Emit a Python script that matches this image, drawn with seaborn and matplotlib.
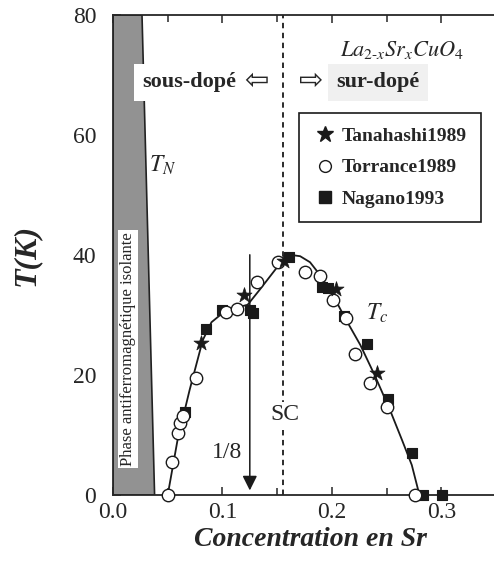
import matplotlib as mpl
mpl.use('Agg')
import matplotlib.pyplot as plt
import seaborn as sns
import pandas as pd
from matplotlib.lines import Line2D
from matplotlib.ticker import MultipleLocator

sns.set_theme(style='ticks')
plt.rcParams['font.family'] = ['Liberation Serif', 'DejaVu Sans']
plt.rcParams['mathtext.fontset'] = 'stix'

# data
tana_x = [0.080, 0.120, 0.156, 0.204, 0.241]
tana_T = [25.3, 33.3, 39.0, 34.3, 20.3]

torr_x = [0.050, 0.054, 0.059, 0.061, 0.064, 0.076, 0.103, 0.113, 0.132,
          0.151, 0.175, 0.189, 0.201, 0.213, 0.221, 0.235, 0.250, 0.276]
torr_T = [0, 5.5, 10.3, 12.0, 13.2, 19.5, 30.5, 31.0, 35.5,
          38.8, 37.2, 36.5, 32.5, 29.5, 23.5, 18.7, 14.7, 0]

nag_x = [0.066, 0.085, 0.100, 0.125, 0.128, 0.161, 0.191, 0.196, 0.211,
         0.232, 0.251, 0.273, 0.283, 0.301]
nag_T = [13.8, 27.7, 30.8, 30.8, 30.3, 39.7, 34.7, 34.5, 29.9,
         25.2, 16.0, 7.0, 0, 0]

# Tc curve
fit_x = [0.050, 0.059, 0.070, 0.082, 0.090, 0.100, 0.112, 0.123, 0.134,
         0.148, 0.157, 0.163, 0.171, 0.180, 0.189, 0.201, 0.212, 0.226,
         0.239, 0.253, 0.264, 0.273, 0.280]
fit_T = [0, 9.2, 17.5, 25.8, 28.8, 30.3, 31.2, 31.7, 34.2,
         37.5, 39.5, 40.0, 39.8, 38.8, 36.7, 33.3, 29.5, 25.0,
         20.0, 14.2, 9.2, 5.0, 0]

# antiferromagnetic wedge
afm_x = [0, 0.038, 0.0265, 0]
afm_T = [0, 0, 80, 80]

fig = plt.figure(figsize=(4.94, 5.66), dpi=100)
ax = fig.add_axes([113/494, 71/566, 394/494, 480/566])

ax.fill(afm_x, afm_T, facecolor='#929292', edgecolor='#222222', lw=1.2, zorder=1)

ax.axvline(0.155, color='k', ls=(0, (3, 2.5)), lw=1.3, zorder=1)

fit = pd.DataFrame({'x': fit_x, 'T': fit_T})
sns.lineplot(data=fit, x='x', y='T', color='k', lw=1.3, sort=False, ax=ax, zorder=2)

sns.scatterplot(x=nag_x, y=nag_T, marker='s', s=60, color='k', edgecolor='k',
                linewidth=0.8, ax=ax, zorder=3, clip_on=False)
sns.scatterplot(x=torr_x, y=torr_T, marker='o', s=80, facecolor='white', edgecolor='k',
                linewidth=1.0, ax=ax, zorder=4, clip_on=False)
sns.scatterplot(x=tana_x, y=tana_T, marker='*', s=130, color='k', edgecolor='k',
                linewidth=0.5, ax=ax, zorder=5, clip_on=False)

ax.annotate('', xy=(0.125, 0.3), xytext=(0.125, 40.5),
            arrowprops=dict(arrowstyle='-|>', color='k', lw=1.1, mutation_scale=22), zorder=6)

ax.set_xlim(0, 0.36)
ax.set_ylim(0, 80)
ax.xaxis.set_major_locator(MultipleLocator(0.1))
ax.xaxis.set_minor_locator(MultipleLocator(0.05))
ax.yaxis.set_major_locator(MultipleLocator(20))
ax.yaxis.set_minor_locator(MultipleLocator(10))
ax.set_xticks([0, 0.1, 0.2, 0.3], ['0.0', '0.1', '0.2', '0.3'])
ax.tick_params(which='both', direction='in', top=True, right=False, labelsize=17)
ax.tick_params(axis='x', which='both', pad=5)
ax.tick_params(axis='y', which='both', pad=12)
ax.tick_params(which='major', length=6, width=1.1)
ax.tick_params(which='minor', length=5, width=1.1)
for sp in ['left', 'bottom', 'top']:
    ax.spines[sp].set_linewidth(1.3)
ax.spines['right'].set_visible(False)

ax.set_xlabel('Concentration en Sr', fontsize=20, fontweight='bold', style='italic', labelpad=3)
ax.set_ylabel('T(K)', fontsize=23, fontweight='bold', style='italic', labelpad=23)

ax.text(0.264, 74.2, r'$La_{2\text{-}x}Sr_xCuO_4$', fontsize=16, ha='center', va='center')
ax.text(0.113, 68.8, 'sous-dopé', fontsize=16, fontweight='bold', ha='right', va='center',
        bbox=dict(facecolor='white', edgecolor='none', pad=6), zorder=7)
ax.text(0.131, 68.8, '⇦', fontsize=21, ha='center', va='center', zorder=7)
ax.text(0.181, 68.8, '⇨', fontsize=21, ha='center', va='center', zorder=7)
ax.text(0.204, 68.8, 'sur-dopé', fontsize=16, fontweight='bold', ha='left', va='center',
        bbox=dict(facecolor='#f0f0f0', edgecolor='none', pad=6), zorder=7)
ax.text(0.014, 24.3, 'Phase antiferromagnétique isolante', fontsize=12, rotation=90,
        ha='center', va='center', bbox=dict(facecolor='white', edgecolor='none', pad=1.5), zorder=7)
ax.text(0.045, 55, r'$T_N$', fontsize=17, ha='center', va='center')
ax.text(0.241, 30.2, r'$T_c$', fontsize=17, ha='center', va='center')
ax.text(0.104, 7, '1/8', fontsize=17, ha='center', va='center')
ax.text(0.157, 13.5, 'SC', fontsize=17, ha='center', va='center',
        bbox=dict(facecolor='white', edgecolor='none', pad=1), zorder=7)

handles = [
    Line2D([], [], ls='none', marker='*', ms=12, color='k', label='Tanahashi1989'),
    Line2D([], [], ls='none', marker='o', ms=8.5, mfc='white', mec='k', mew=1.0, label='Torrance1989'),
    Line2D([], [], ls='none', marker='s', ms=8.5, color='k', label='Nagano1993'),
]
leg = ax.legend(handles=handles, loc='upper left', bbox_to_anchor=(0.472, 0.796),
                borderaxespad=0,
                prop=dict(family='Liberation Serif', weight='bold', size=14),
                frameon=True, fancybox=False, edgecolor='k', framealpha=1,
                handletextpad=0.25, handlelength=1.2, labelspacing=0.7, borderpad=0.75)
leg.get_frame().set_linewidth(1.2)
leg.set_zorder(8)

fig.savefig('out.png', dpi=100)
